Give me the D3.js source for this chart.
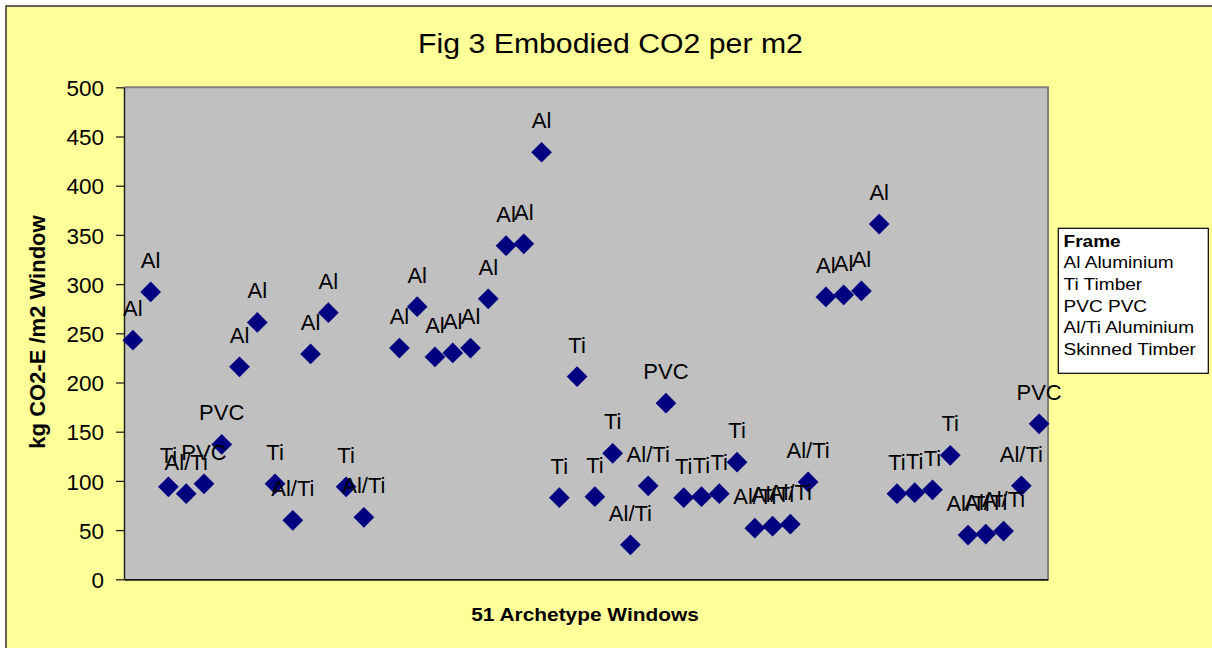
<!DOCTYPE html>
<html>
<head>
<meta charset="utf-8">
<script src="https://cdn.jsdelivr.net/npm/d3@7"></script>
<style>
  html, body { margin: 0; padding: 0; background: #ffffff; }
  svg { display: block; }
  text { font-family: "Liberation Sans", Arial, Helvetica, sans-serif; }
</style>
</head>
<body>
<svg id="chart" width="1212" height="648"></svg>
<script>
// ---- data ----
const titleText = "Fig 3 Embodied CO2 per m2";
const yAxisTitle = "kg CO2-E /m2 Window";
const xAxisTitle = "51 Archetype Windows";
const yTicks = [0, 50, 100, 150, 200, 250, 300, 350, 400, 450, 500];
// 52 category slots; slot 15 is empty in the source chart
const categories = d3.range(1, 53);
const values = [243, 292, 94, 87, 97, 137, 216, 261, 97, 60, 229, 271, 94, 63, null,
  235, 277, 226, 230, 235, 285, 339, 341, 434, 83, 206, 84, 128, 35, 95,
  179, 83, 84, 87, 119, 52, 54, 56, 99, 287, 289, 293, 361, 87, 88,
  91, 126, 45, 46, 49, 95, 158];
const frameLabels = ["Al", "Al", "Ti", "Al/Ti", "PVC", "PVC", "Al", "Al", "Ti", "Al/Ti", "Al", "Al", "Ti", "Al/Ti", "",
  "Al", "Al", "Al", "Al", "Al", "Al", "Al", "Al", "Al", "Ti", "Ti", "Ti", "Ti", "Al/Ti", "Al/Ti",
  "PVC", "Ti", "Ti", "Ti", "Ti", "Al/Ti", "Al/Ti", "Al/Ti", "Al/Ti", "Al", "Al", "Al", "Al", "Ti", "Ti",
  "Ti", "Ti", "Al/Ti", "Al/Ti", "Al/Ti", "Al/Ti", "PVC"];
const legendTitle = "Frame";
const legendItems = ["Al Aluminium", "Ti Timber", "PVC PVC", "Al/Ti Aluminium", "Skinned Timber"];

// ---- layout ----
const svg = d3.select("#chart");
const plot = { left: 124, top: 87.3, right: 1048, bottom: 579.3 };

// chart area background + frame
svg.append("rect").attr("x", 6).attr("y", 6).attr("width", 1230).attr("height", 670)
  .attr("fill", "#FFFF99").attr("stroke", "#333333").attr("stroke-width", 1.5);

// title
svg.append("text")
  .attr("transform", "translate(610.5,53) scale(1.12,1)")
  .attr("text-anchor", "middle").attr("font-size", 27).attr("fill", "#000")
  .text(titleText);

const x = d3.scalePoint().domain(categories).range([plot.left, plot.right]).padding(0.5);
const y = d3.scaleLinear().domain([0, 500]).range([plot.bottom, plot.top]);

// plot area
svg.append("rect").attr("x", plot.left).attr("y", plot.top)
  .attr("width", plot.right - plot.left).attr("height", plot.bottom - plot.top)
  .attr("fill", "#C0C0C0");
svg.append("path")
  .attr("d", `M${plot.left},${plot.top}H${plot.right}V${plot.bottom}`)
  .attr("fill", "none").attr("stroke", "#808080").attr("stroke-width", 2);

// y axis
const yAxis = d3.axisLeft(y).tickValues(yTicks).tickSize(8).tickSizeOuter(0).tickPadding(12);
const gy = svg.append("g").attr("transform", `translate(${plot.left},0)`).call(yAxis);
gy.select(".domain").attr("stroke", "#222").attr("stroke-width", 1.5);
gy.selectAll(".tick line").attr("stroke", "#222").attr("stroke-width", 1.3);
gy.selectAll(".tick text").attr("font-size", 22.5).attr("fill", "#000")
  .attr("font-family", "'Liberation Sans', Arial, sans-serif").attr("dy", "0.36em");

// x axis line (no ticks, no labels)
const xAxis = d3.axisBottom(x).tickValues([]).tickSizeOuter(0);
const gx = svg.append("g").attr("transform", `translate(0,${plot.bottom})`).call(xAxis);
gx.select(".domain").attr("stroke", "#111").attr("stroke-width", 1.8);

// axis titles
svg.append("text")
  .attr("transform", `translate(45,332) rotate(-90)`)
  .attr("text-anchor", "middle").attr("font-size", 22).attr("font-weight", "bold")
  .text(yAxisTitle);
svg.append("text")
  .attr("transform", "translate(585,621) scale(1.13,1)")
  .attr("text-anchor", "middle").attr("font-size", 18.5).attr("font-weight", "bold")
  .text(xAxisTitle);

// points
const pts = categories.map((c, i) => ({ c, v: values[i], lab: frameLabels[i] }))
  .filter(d => d.v !== null);
const diamond = d3.symbol().type(d3.symbolSquare).size(215);
svg.append("g").selectAll("path").data(pts).join("path")
  .attr("d", diamond)
  .attr("transform", d => `translate(${x(d.c)},${y(d.v)}) rotate(45)`)
  .attr("fill", "#000080");

// data labels
svg.append("g").selectAll("text").data(pts).join("text")
  .attr("x", d => x(d.c)).attr("y", d => y(d.v) - 24)
  .attr("text-anchor", "middle").attr("font-size", 22).attr("fill", "#000")
  .text(d => d.lab);

// legend
const lg = svg.append("g");
lg.append("rect").attr("x", 1058.3).attr("y", 228.3).attr("width", 150).attr("height", 145)
  .attr("fill", "#ffffff").attr("stroke", "#000").attr("stroke-width", 1.2);
const legLines = [legendTitle].concat(legendItems);
lg.selectAll("text").data(legLines).join("text")
  .attr("transform", (d, i) => `translate(1063.5,${246.7 + i * 21.65}) scale(1.17,1)`)
  .attr("font-size", 16.3)
  .attr("font-weight", (d, i) => i === 0 ? "bold" : "normal")
  .attr("fill", "#000")
  .text(d => d);
</script>
</body>
</html>
